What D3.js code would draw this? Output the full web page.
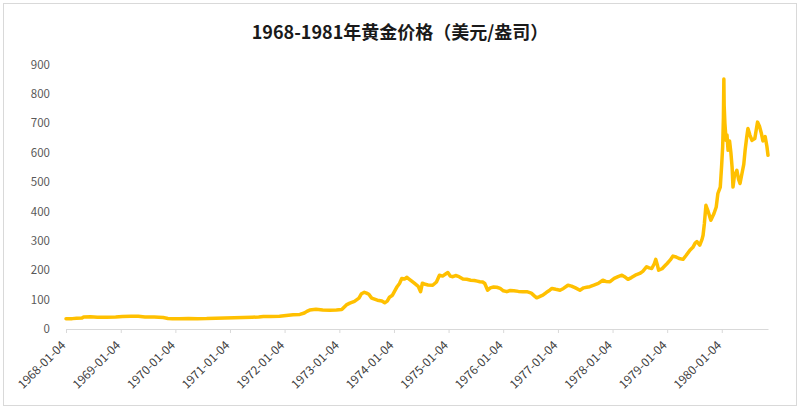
<!DOCTYPE html>
<html>
<head>
<meta charset="utf-8">
<script src="https://cdn.jsdelivr.net/npm/d3@7/dist/d3.min.js"></script>
<style>
  html, body { margin: 0; padding: 0; background: #fff; }
  svg { display: block; }
</style>
</head>
<body>
<div id="chart"></div>
<script>
const titleText = "1968-1981年黄金价格（美元/盎司）";

const dates = [
  "1968-01-04","1968-02-15","1968-03-15","1968-04-20","1968-05-01","1968-06-15","1968-08-01","1968-10-01","1968-12-01",
  "1969-01-15","1969-03-15","1969-05-01","1969-06-15","1969-08-15","1969-10-15","1969-11-15","1969-12-15",
  "1970-02-01","1970-04-01","1970-06-01","1970-08-01","1970-10-01","1970-12-01",
  "1971-02-01","1971-04-01","1971-06-01","1971-07-15","1971-08-15","1971-10-01","1971-12-01",
  "1972-01-15","1972-03-01","1972-04-15","1972-05-15","1972-06-01","1972-06-20","1972-08-01","1972-09-15","1972-11-01","1972-12-15",
  "1973-01-20","1973-02-20","1973-03-15","1973-04-15","1973-05-15","1973-06-01","1973-06-20","1973-07-05","1973-07-20","1973-08-08","1973-09-15","1973-10-15","1973-11-03","1973-11-20","1973-12-05","1973-12-25",
  "1974-01-25","1974-02-10","1974-02-25","1974-03-15","1974-03-30","1974-04-15","1974-05-05","1974-05-22","1974-06-15","1974-07-01","1974-07-13","1974-08-01","1974-08-20","1974-09-20","1974-10-15","1974-11-04","1974-11-25","1974-12-20","1974-12-30",
  "1975-01-15","1975-02-01","1975-02-20","1975-03-15","1975-04-10","1975-05-05","1975-06-01","1975-06-25","1975-07-15","1975-08-01","1975-08-20","1975-09-03","1975-09-22","1975-10-10","1975-11-01","1975-11-22","1975-12-15",
  "1976-01-05","1976-01-28","1976-02-20","1976-03-15","1976-04-15","1976-05-15","1976-06-10","1976-07-10","1976-08-01","1976-08-15","1976-09-03","1976-09-25","1976-10-20","1976-11-10","1976-11-25","1976-12-20",
  "1977-01-18","1977-02-10","1977-03-12","1977-04-05","1977-05-01","1977-05-31","1977-06-25","1977-07-15","1977-08-05","1977-09-01","1977-10-01","1977-10-31","1977-11-20","1977-12-18",
  "1978-01-15","1978-02-10","1978-03-08","1978-03-25","1978-04-17","1978-05-10","1978-06-05","1978-07-05","1978-07-25","1978-08-20","1978-09-05","1978-09-23","1978-10-10","1978-10-20","1978-11-01","1978-11-08","1978-12-01","1978-12-20",
  "1979-01-04","1979-01-25","1979-02-12","1979-03-05","1979-03-25","1979-04-20","1979-05-10","1979-06-05","1979-06-25","1979-07-10","1979-07-22","1979-08-10","1979-08-25","1979-09-01","1979-09-10","1979-09-20","1979-10-05","1979-10-23","1979-11-13","1979-11-28","1979-12-09","1979-12-25",
  "1980-01-03","1980-01-10","1980-01-15","1980-01-18","1980-01-20","1980-01-25","1980-02-02","1980-02-08","1980-02-15","1980-02-25","1980-03-05","1980-03-13","1980-03-19","1980-03-28","1980-04-14","1980-04-25","1980-05-05","1980-05-18","1980-05-30","1980-06-08","1980-06-18","1980-06-27","1980-07-10","1980-07-24","1980-08-12","1980-08-22","1980-08-30","1980-09-12","1980-09-25","1980-10-05","1980-10-20","1980-11-01","1980-11-08"
];

const prices = [
  35.2,35.3,36.5,37.5,41,41.5,40,40,41,
  42.5,43.5,43,41,40.5,39,36,35,
  34.8,35.5,35.3,35.4,36.5,37.3,
  38.3,38.9,40.1,40.9,42.5,42.5,43.5,
  46,48.2,49.5,54.5,60,64.5,67,65,64,64.5,
  66,82,88,94,105,120,125,122,118,105,98,95,89,95,108,115,
  144,155,172,170,176,170,162,155,145,127,156,152,150,149,160,183,180,189,192,
  180,178,182,178,170,169,166,165,163,161,160,155,132,140,143,142,138,
  130,127,131,130,128,127,127,122,112,106,110,115,125,132,138,135,
  132,138,149,146,140,132,140,142,144,149,155,166,162,161,
  172,178,183,178,169,175,183,189,196,212,208,206,222,237,215,200,205,215,
  223,235,248,245,240,237,250,268,278,292,297,285,305,319,360,421,400,370,393,415,461,483,
  555,620,720,851,760,700,642,660,608,640,600,551,483,520,540,510,495,529,560,608,650,682,660,642,648,680,704,690,665,640,655,620,591
];

const yTicks = [0,100,200,300,400,500,600,700,800,900];
const xTickLabels = ["1968-01-04","1969-01-04","1970-01-04","1971-01-04","1972-01-04","1973-01-04","1974-01-04","1975-01-04","1976-01-04","1977-01-04","1978-01-04","1979-01-04","1980-01-04"];

const W = 800, H = 409;
const parse = d3.timeParse("%Y-%m-%d");
const data = dates.map((d, i) => ({ date: parse(d), value: prices[i] }));

const svg = d3.select("#chart").append("svg").attr("width", W).attr("height", H);

svg.append("rect")
  .attr("x", 3.5).attr("y", 3.5).attr("width", W - 7).attr("height", H - 7)
  .attr("fill", "#fff").attr("stroke", "#d9d9d9").attr("stroke-width", 1);

svg.append("text")
  .attr("x", 400).attr("y", 39)
  .attr("text-anchor", "middle")
  .attr("font-family", "'Noto Sans CJK SC', 'Noto Sans', sans-serif")
  .attr("font-size", 18).attr("font-weight", "bold").attr("fill", "#1a1a1a")
  .text(titleText);

const x = d3.scaleTime()
  .domain([data[0].date, data[data.length - 1].date])
  .range([66, 768]);

const y = d3.scaleLinear().domain([0, 900]).range([329, 64.5]);

const font = "'Noto Sans CJK SC', 'Open Sans', sans-serif";

// y axis (labels only)
const yAxis = d3.axisLeft(y).tickValues(yTicks).tickSize(0).tickPadding(0);
const gy = svg.append("g").attr("transform", "translate(50,0)").call(yAxis);
gy.select(".domain").remove();
gy.selectAll("text").attr("font-family", font).attr("font-size", 11.5).attr("fill", "#595959");

// x axis
const xAxis = d3.axisBottom(x)
  .tickValues(xTickLabels.map(parse))
  .tickFormat(d3.timeFormat("%Y-%m-%d"))
  .tickSizeInner(4).tickSizeOuter(0);
const gx = svg.append("g").attr("transform", "translate(0,329)").call(xAxis);
gx.select(".domain").attr("stroke", "#d9d9d9");
gx.selectAll(".tick line").attr("stroke", "#d9d9d9");
gx.selectAll("text")
  .attr("font-family", font).attr("font-size", 12).attr("fill", "#404040")
  .attr("text-anchor", "end")
  .attr("x", 0).attr("y", 0).attr("dx", 0).attr("dy", 0)
  .attr("transform", "translate(0,17) rotate(-45)");

const line = d3.line().x(d => x(d.date)).y(d => y(d.value));
svg.append("path")
  .datum(data)
  .attr("fill", "none")
  .attr("stroke", "#FFC000")
  .attr("stroke-width", 3.5)
  .attr("stroke-linejoin", "round")
  .attr("stroke-linecap", "round")
  .attr("d", line);
</script>
</body>
</html>
